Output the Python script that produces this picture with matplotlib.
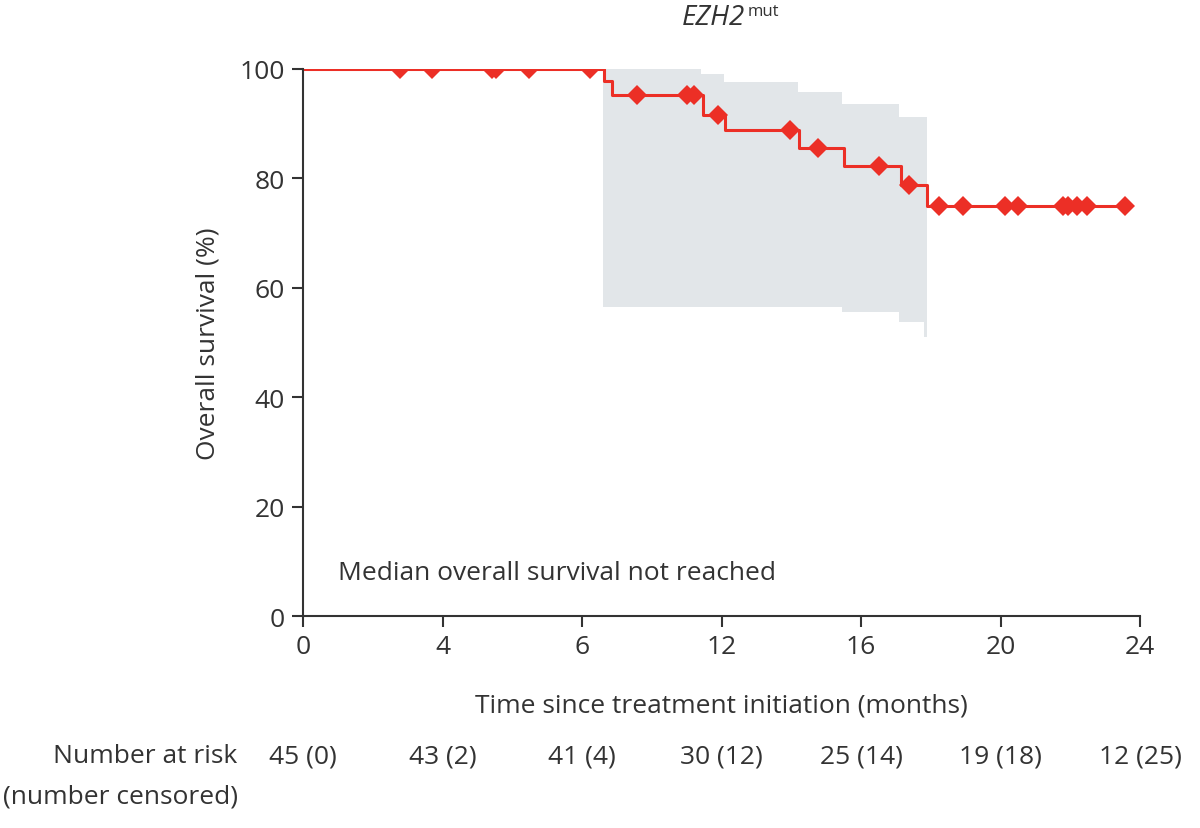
import numpy as np
import matplotlib
matplotlib.use('Agg')
from matplotlib import pyplot as plt
from matplotlib import transforms

plt.rcParams['font.family'] = ['Open Sans', 'DejaVu Sans']

# Kaplan-Meier step curve (time in months, survival in %)
stepTime = [0, 8.63, 8.85, 11.46, 12.1, 14.22, 15.5, 17.14, 17.9, 23.6]
stepSurv = [100, 97.8, 95.2, 91.6, 88.8, 85.6, 82.3, 78.8, 75.0, 75.0]

# censoring marks
censTime = [2.78, 3.69, 5.42, 5.52, 6.48, 8.23,
            9.59, 11.0, 11.22, 11.89, 13.95, 14.77, 16.52, 17.39,
            18.25, 18.93, 20.13, 20.51, 21.8, 21.94, 22.18, 22.47, 23.57]
censSurv = [100, 100, 100, 100, 100, 100,
            95.2, 95.2, 95.2, 91.6, 88.8, 85.6, 82.3, 78.8,
            75.0, 75.0, 75.0, 75.0, 75.0, 75.0, 75.0, 75.0, 75.0]

# confidence band
bandTime = [8.6, 11.4, 12.07, 14.2, 15.45, 17.1, 17.8, 17.9]
bandUpper = [100, 99.1, 97.6, 95.7, 93.6, 91.2, 91.2, 91.2]
bandLower = [56.4, 56.4, 56.4, 56.4, 55.5, 53.7, 51.0, 51.0]

tickPos = [0, 4, 8, 12, 16, 20, 24]
tickLabels = ['0', '4', '6', '12', '16', '20', '24']
atRisk = ['45 (0)', '43 (2)', '41 (4)', '30 (12)', '25 (14)', '19 (18)', '12 (25)']

red = '#ec2f26'
dark = '#333333'
fs = 19

fig = plt.figure(figsize=(12, 8.29), dpi=100)
ax = fig.add_axes([0.2525, 0.2557, 0.6975, 0.66])

ax.fill_between(bandTime, bandLower, bandUpper, step='post',
                color='#e2e6e9', linewidth=0)
ax.step(stepTime, stepSurv, where='post', color=red, linewidth=2.2)
ax.plot(censTime, censSurv, linestyle='none', marker='D', markersize=10,
        color=red, markeredgewidth=0)

ax.set_xlim(0, 24)
ax.set_ylim(0, 100)
ax.set_xticks(tickPos)
ax.set_xticklabels(tickLabels)
ax.set_yticks([0, 20, 40, 60, 80, 100])
for s in ['top', 'right']:
    ax.spines[s].set_visible(False)
for s in ['left', 'bottom']:
    ax.spines[s].set_color(dark)
    ax.spines[s].set_linewidth(1.5)
ax.tick_params(colors=dark, labelsize=fs, width=1.5, length=8, pad=5)
ax.set_xlabel('Time since treatment initiation (months)', fontsize=fs,
              color=dark, labelpad=24)
ax.set_ylabel('Overall survival (%)', fontsize=fs, color=dark, labelpad=14)

ax.text(1.0, 8.0, 'Median overall survival not reached', fontsize=fs,
        color=dark, va='center')

fig.text(0.621, 0.978, 'EZH2', fontsize=20, style='italic', color=dark,
         ha='right', va='center')
fig.text(0.623, 0.986, 'mut', fontsize=12, color=dark, ha='left', va='center')

trans = transforms.blended_transform_factory(ax.transData, fig.transFigure)
for pos, lab in zip(tickPos, atRisk):
    ax.text(pos, 0.087, lab, transform=trans, ha='center', va='center',
            fontsize=fs, color=dark, clip_on=False)
fig.text(0.198, 0.087, 'Number at risk', ha='right', va='center',
         fontsize=fs, color=dark)
fig.text(0.198, 0.038, '(number censored)', ha='right', va='center',
         fontsize=fs, color=dark)

plt.savefig('out.png', dpi=100)
